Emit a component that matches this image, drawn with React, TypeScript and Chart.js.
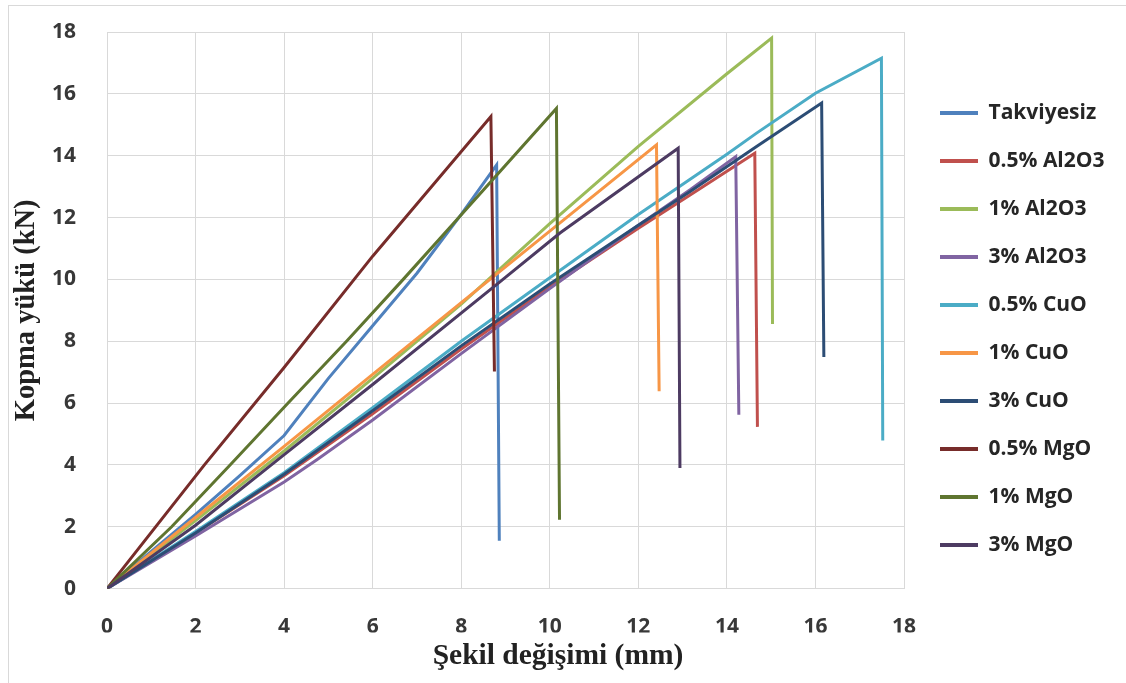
import { useEffect, useRef } from "react";
import { Chart, registerables } from "chart.js";

Chart.register(...registerables);

// ---- data ----
const seriesNames = [
  "Takviyesiz",
  "0.5% Al2O3",
  "1% Al2O3",
  "3% Al2O3",
  "0.5% CuO",
  "1% CuO",
  "3% CuO",
  "0.5% MgO",
  "1% MgO",
  "3% MgO",
];

const seriesColors = [
  "#4F81BD",
  "#C0504D",
  "#9BBB59",
  "#8064A2",
  "#4BACC6",
  "#F79646",
  "#2C4D75",
  "#772C2A",
  "#5F7530",
  "#4D3B62",
];

// [deformation (mm), load (kN)]
const takviyesiz = [[0, 0], [1, 1.2], [2, 2.4], [3, 3.65], [4, 4.95], [5, 6.8], [6, 8.5], [7, 10.2], [8, 12.1], [8.8, 13.7], [8.86, 1.55]];
const al2o3_05 = [[0, 0], [2, 1.8], [4, 3.65], [6, 5.65], [8, 7.75], [10, 9.75], [12, 11.65], [13.17, 12.73], [14.63, 14.08], [14.69, 5.23]];
const al2o3_1 = [[0, 0], [2, 2.2], [4, 4.45], [6, 6.8], [8, 9.2], [10, 11.8], [12, 14.3], [14, 16.65], [15.01, 17.8], [15.03, 8.56]];
const al2o3_3 = [[0, 0], [2, 1.7], [4, 3.45], [4.74, 4.17], [6, 5.45], [8, 7.6], [10, 9.7], [12, 11.75], [13.17, 12.9], [14.2, 13.97], [14.27, 5.62]];
const cuo_05 = [[0, 0], [2, 1.85], [4, 3.75], [6, 5.85], [8, 8.0], [10, 10.05], [12, 12.1], [14, 14.05], [14.67, 14.73], [16, 16.02], [17.49, 17.15], [17.52, 4.79]];
const cuo_1 = [[0, 0], [2, 2.3], [4, 4.6], [6, 6.93], [8, 9.25], [10, 11.56], [12.41, 14.35], [12.47, 6.38]];
const cuo_3 = [[0, 0], [2, 1.8], [4, 3.7], [6, 5.75], [8, 7.85], [10, 9.85], [12, 11.75], [13.17, 12.84], [14.67, 14.3], [16.14, 15.7], [16.19, 7.49]];
const mgo_05 = [[0, 0], [2.2, 4], [4, 7.15], [6, 10.75], [8.67, 15.27], [8.75, 7.02]];
const mgo_1 = [[0, 0], [1.46, 2], [2.78, 4], [4.09, 6], [5.41, 8], [6.69, 10], [7.9, 11.93], [10.15, 15.53], [10.22, 2.23]];
const mgo_3 = [[0, 0], [2, 2.05], [3.91, 4.23], [6, 6.6], [8.88, 9.93], [10.23, 11.5], [12.9, 14.24], [12.94, 3.9]];

const axisMin = 0;
const axisMax = 18;
const axisStep = 2;

const xTitle = "Şekil değişimi (mm)";
const yTitle = "Kopma yükü (kN)";

const legendPlacement = {
  id: "legendPlacement",
  beforeInit(chart: any) {
    const lg = chart.legend;
    if (!lg) return;
    const fit = lg.fit.bind(lg);
    lg.fit = function () {
      fit();
      this.width = 203;
    };
  },
  afterLayout(chart: any) {
    const lg = chart.legend;
    if (!lg) return;
    const dx = 9;
    const dy = -28.5;
    lg.left += dx;
    lg.right += dx;
    lg.top += dy;
    lg.bottom += dy;
  },
};

export default function App() {
  const ref = useRef<HTMLCanvasElement>(null);

  useEffect(() => {
    const all = [takviyesiz, al2o3_05, al2o3_1, al2o3_3, cuo_05, cuo_1, cuo_3, mgo_05, mgo_1, mgo_3];
    const tickFont = { family: "'Open Sans', Lato, sans-serif", weight: "bold" as const, size: 21 };
    const yTitleFont = { family: "'Liberation Serif', 'DejaVu Serif', serif", weight: "bold" as const, size: 28.5 };
    const xTitleFont = { family: "'Liberation Serif', 'DejaVu Serif', serif", weight: "bold" as const, size: 29.5 };
    const chart = new Chart(ref.current!, {
      type: "line",
      data: {
        datasets: all.map((pts, i) => ({
          label: seriesNames[i],
          data: pts.map(([x, y]) => ({ x, y })),
          borderColor: seriesColors[i],
          backgroundColor: seriesColors[i],
          borderWidth: 3,
          pointRadius: 0,
          pointHoverRadius: 0,
          tension: 0,
          fill: false,
          order: all.length - i,
        })),
      },
      options: {
        responsive: false,
        animation: false,
        layout: { padding: { top: 26, right: 19, bottom: 0, left: 0 } },
        scales: {
          x: {
            type: "linear",
            min: axisMin,
            max: axisMax,
            ticks: { stepSize: axisStep, padding: 3, font: tickFont, color: "#383838" },
            grid: { color: "#d9d9d9", lineWidth: 1, drawTicks: true, tickLength: 23, tickColor: "rgba(0,0,0,0)" },
            border: { color: "#d9d9d9" },
            afterFit: (s: any) => {
              s.height = 44;
            },
          },
          y: {
            type: "linear",
            min: axisMin,
            max: axisMax,
            ticks: { stepSize: axisStep, padding: 3, font: tickFont, color: "#383838" },
            grid: { color: "#d9d9d9", lineWidth: 1, drawTicks: true, tickLength: 28, tickColor: "rgba(0,0,0,0)" },
            border: { color: "#d9d9d9" },
            title: {
              display: true,
              text: yTitle,
              font: yTitleFont,
              color: "#222",
              padding: { top: 1, bottom: 0 },
            },
            afterFit: (s: any) => {
              s.width = 98;
            },
          },
        },
        plugins: {
          legend: {
            position: "right",
            align: "center",
            labels: {
              boxWidth: 38,
              boxHeight: 4,
              padding: 27,
              font: { family: "'Open Sans', Lato, sans-serif", weight: "bold", size: 21 },
              color: "#262626",
              sort: (a: any, b: any) => a.datasetIndex - b.datasetIndex,
              generateLabels: (c: any) =>
                (Chart.defaults.plugins.legend.labels.generateLabels as any)(c).map((l: any) => ({
                  ...l,
                  lineWidth: 0,
                  fillStyle: l.strokeStyle,
                })),
            },
          },
          title: {
            display: true,
            position: "bottom",
            text: xTitle,
            font: xTitleFont,
            color: "#222",
            padding: { top: 6, bottom: 9 },
          },
          tooltip: { enabled: false },
        },
      },
      plugins: [legendPlacement],
    });
    return () => chart.destroy();
  }, []);

  return (
    <div
      style={{
        position: "fixed",
        left: 8,
        top: 5,
        width: 1118,
        height: 678,
        borderLeft: "1px solid #d9d9d9",
        borderTop: "1px solid #d9d9d9",
        background: "#fff",
        boxSizing: "border-box",
      }}
    >
      <canvas ref={ref} width={1117} height={677} style={{ display: "block" }} />
    </div>
  );
}
